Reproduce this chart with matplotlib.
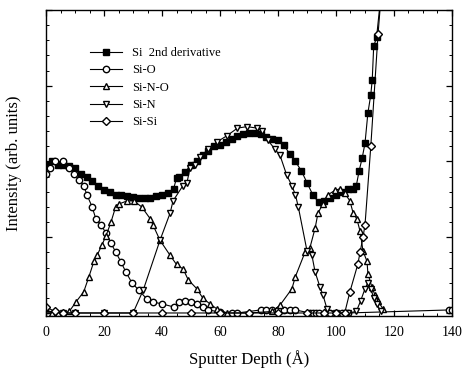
import matplotlib.pyplot as plt
from matplotlib.ticker import MultipleLocator, NullFormatter

plt.rcParams['font.family'] = ['Liberation Serif', 'DejaVu Serif']

# Si 2nd derivative (filled squares)
d2_x = [0, 2, 4, 6, 8, 10, 12, 14, 16, 18, 20, 22, 24, 26, 28, 30, 32, 34, 36, 38,
        40, 42, 44, 45, 46, 48, 50, 52, 54, 56, 58, 60, 62, 64, 66, 68, 70, 72, 74, 76,
        78, 80, 82, 84, 86, 88, 90, 92, 94, 96, 98, 100, 102, 104, 106, 107, 108, 109,
        110, 111, 112, 112.5, 113, 114, 115.5]
d2_y = [0.49, 0.50, 0.49, 0.487, 0.484, 0.477, 0.46, 0.45, 0.435, 0.42, 0.405, 0.40,
        0.39, 0.39, 0.385, 0.382, 0.38, 0.38, 0.38, 0.385, 0.39, 0.395, 0.41, 0.445,
        0.45, 0.465, 0.49, 0.50, 0.52, 0.535, 0.55, 0.555, 0.565, 0.575, 0.585, 0.59,
        0.595, 0.595, 0.59, 0.58, 0.575, 0.57, 0.555, 0.525, 0.50, 0.47, 0.43, 0.39,
        0.365, 0.37, 0.38, 0.39, 0.40, 0.41, 0.41, 0.42, 0.47, 0.51, 0.56, 0.66, 0.72,
        0.77, 0.88, 0.91, 1.05]

# Si-O (open circles)
sio_x = [0, 1.5, 3, 6, 8, 9.6, 11.4, 13, 14.1, 15.9, 17.2, 19, 20.6, 22.4, 24.1, 25.9,
         27.6, 29.6, 32, 34.8, 37, 40, 44, 46, 48, 50, 52, 54, 56, 60, 64, 66, 74, 76,
         78, 80, 82, 84, 86, 91, 92, 93, 94, 98, 102, 104, 139, 140]
sio_y = [0.46, 0.48, 0.50, 0.50, 0.48, 0.46, 0.44, 0.42, 0.39, 0.35, 0.31, 0.29, 0.265,
         0.23, 0.20, 0.167, 0.134, 0.10, 0.075, 0.046, 0.036, 0.03, 0.02, 0.036, 0.04,
         0.036, 0.03, 0.02, 0.01, 0.003, 0.0, 0.0, 0.01, 0.01, 0.01, 0.01, 0.01, 0.01,
         0.01, 0.0, 0.0, 0.0, 0.0, 0.0, 0.0, 0.0, 0.01, 0.01]

# Si-N-O (up triangles)
sino_x = [0, 2, 4, 6, 8, 10.3, 13, 14.8, 16.5, 17.6, 19.3, 20.7, 22.4, 24, 25.2, 28,
          30.3, 33, 36, 36.9, 39.3, 42.8, 45, 47.3, 49, 52, 54, 56.5, 59, 62.4, 70, 78,
          80.7, 84.8, 86, 89.3, 91, 92.8, 93.8, 95.5, 97.2, 99.7, 101.4, 103, 104.8,
          105.9, 107.2, 108.3, 109.3, 110.7, 111, 112.4, 113.4, 114.5, 116.2]
sino_y = [0.01, 0.0, 0.0, 0.0, 0.005, 0.036, 0.07, 0.12, 0.17, 0.19, 0.225, 0.255, 0.30,
          0.35, 0.36, 0.37, 0.37, 0.35, 0.31, 0.29, 0.24, 0.19, 0.16, 0.145, 0.11, 0.08,
          0.05, 0.03, 0.013, 0.0, 0.0, 0.005, 0.026, 0.08, 0.12, 0.20, 0.215, 0.28, 0.33,
          0.36, 0.39, 0.405, 0.41, 0.395, 0.37, 0.33, 0.31, 0.27, 0.205, 0.17, 0.13,
          0.085, 0.06, 0.04, 0.013]

# Si-N (down triangles)
sin_x = [0, 3, 6, 10, 20, 30, 33.5, 39.3, 42.8, 43.8, 47.2, 48.6, 49.7, 51.4, 53, 56,
         59, 62.4, 66, 69.3, 72.8, 74.5, 76.5, 79, 80.7, 83, 84.8, 86, 87, 90, 91.7, 92.8,
         94.5, 95.5, 96.9, 100, 104, 107, 108.5, 110, 111, 112, 113, 114, 115.5]
sin_y = [0.01, 0.0, 0.0, 0.0, 0.0, 0.0, 0.075, 0.24, 0.33, 0.37, 0.42, 0.43, 0.48,
         0.49, 0.515, 0.54, 0.565, 0.585, 0.61, 0.615, 0.61, 0.60, 0.57, 0.54, 0.52,
         0.455, 0.42, 0.39, 0.35, 0.205, 0.19, 0.135, 0.085, 0.06, 0.013, 0.0, 0.0,
         0.005, 0.04, 0.08, 0.1, 0.08, 0.05, 0.03, 0.005]

# Si-Si (diamonds)
sisi_x = [0, 3, 6, 10, 20, 30, 40, 50, 60, 70, 80, 90, 96, 100, 103, 104.8, 107.5,
          108.3, 109.3, 110, 112, 114.5, 116]
sisi_y = [0.02, 0.005, 0.0, 0.0, 0.0, 0.0, 0.0, 0.0, 0.0, 0.0, 0.0, 0.0, 0.0, 0.0,
          0.0, 0.07, 0.16, 0.20, 0.25, 0.29, 0.55, 0.92, 1.1]

fig = plt.figure(figsize=(4.65, 3.69), dpi=100)
ax = fig.add_axes([0.099, 0.1436, 0.873, 0.8294])

ms = 4.6
lw = 0.8
ax.plot(d2_x, d2_y, 'k-', marker='s', ms=ms, mfc='black', mec='black', lw=lw,
        label='Si  2nd derivative')
ax.plot(sio_x, sio_y, 'k-', marker='o', ms=ms, mfc='white', mec='black', lw=lw,
        label='Si-O')
ax.plot(sino_x, sino_y, 'k-', marker='^', ms=ms, mfc='white', mec='black', lw=lw,
        label='Si-N-O')
ax.plot(sin_x, sin_y, 'k-', marker='v', ms=ms, mfc='white', mec='black', lw=lw,
        label='Si-N')
ax.plot(sisi_x, sisi_y, 'k-', marker='D', ms=ms - 0.8, mfc='white', mec='black', lw=lw,
        label='Si-Si')

ax.set_xlim(0, 140)
ax.set_ylim(-0.01, 1.0)
ax.xaxis.set_major_locator(MultipleLocator(20))
ax.xaxis.set_minor_locator(MultipleLocator(5))
ax.yaxis.set_major_locator(MultipleLocator(0.25))
ax.yaxis.set_minor_locator(MultipleLocator(0.05))
ax.yaxis.set_major_formatter(NullFormatter())
ax.tick_params(which='both', direction='in', top=True, right=True, labelsize=10)
ax.tick_params(which='major', length=4, width=0.9, pad=7)
ax.tick_params(which='minor', length=2.5, width=0.7)
for s in ax.spines.values():
    s.set_linewidth(1.0)

ax.set_xlabel('Sputter Depth (Å)', fontsize=12, labelpad=8)
ax.set_ylabel('Intensity (arb. units)', fontsize=12, labelpad=10)

ax.legend(loc='upper left', bbox_to_anchor=(0.08, 0.915), frameon=False, fontsize=9,
          handlelength=2.6, handletextpad=0.8, labelspacing=0.42)

fig.savefig('out.png', dpi=100)
